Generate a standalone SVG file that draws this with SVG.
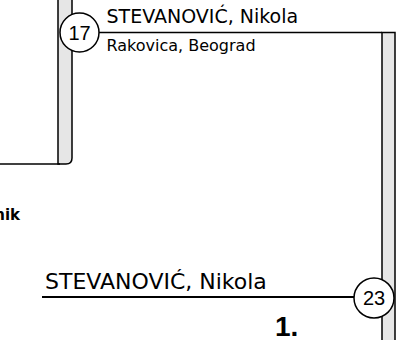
<svg xmlns="http://www.w3.org/2000/svg" width="401" height="340" viewBox="0 0 401 340">
<style>
.bar{fill:#e6e6e6;stroke:#000;stroke-width:1.5}
.ln{fill:none;stroke:#000;stroke-width:1.5}
.badge{fill:#fff;stroke:#000;stroke-width:1.5}
.num{font-family:"Liberation Sans",Arial,sans-serif;font-size:20px;text-anchor:middle;fill:#000}
.nm{font-family:"DejaVu Sans",sans-serif;fill:#000}
</style>
<g id="connectors">
<path class="bar" d="M58,-5 V164 H66 Q72,164 72,158 V-5"/>
<line class="ln" x1="-2" y1="164" x2="60" y2="164"/>
<path class="bar" d="M382,345 V32.5 H395 V345"/>
<line class="ln" x1="99" y1="32.5" x2="382" y2="32.5"/>
<line class="ln" x1="42" y1="297" x2="354" y2="297" style="stroke-width:2"/>
</g>
<g id="node-17">
<circle class="badge" cx="79.5" cy="32.5" r="19.5"/>
<text class="num" x="79.5" y="39.5">17</text>
<text class="nm" x="106.5" y="23" font-size="19">STEVANOVIĆ, Nikola</text>
<text class="nm" x="106.5" y="50.5" font-size="16">Rakovica, Beograd</text>
</g>
<g id="node-left">
<text class="nm" x="20" y="220" font-size="15" font-weight="bold" text-anchor="end">nik</text>
</g>
<g id="node-23">
<circle class="badge" cx="374" cy="298" r="20"/>
<text class="num" x="374" y="305">23</text>
<text class="nm" x="45" y="289" font-size="22">STEVANOVIĆ, Nikola</text>
<text x="275" y="336" font-family="'Liberation Sans',Arial,sans-serif" font-size="28" font-weight="bold">1.</text>
</g>
</svg>
